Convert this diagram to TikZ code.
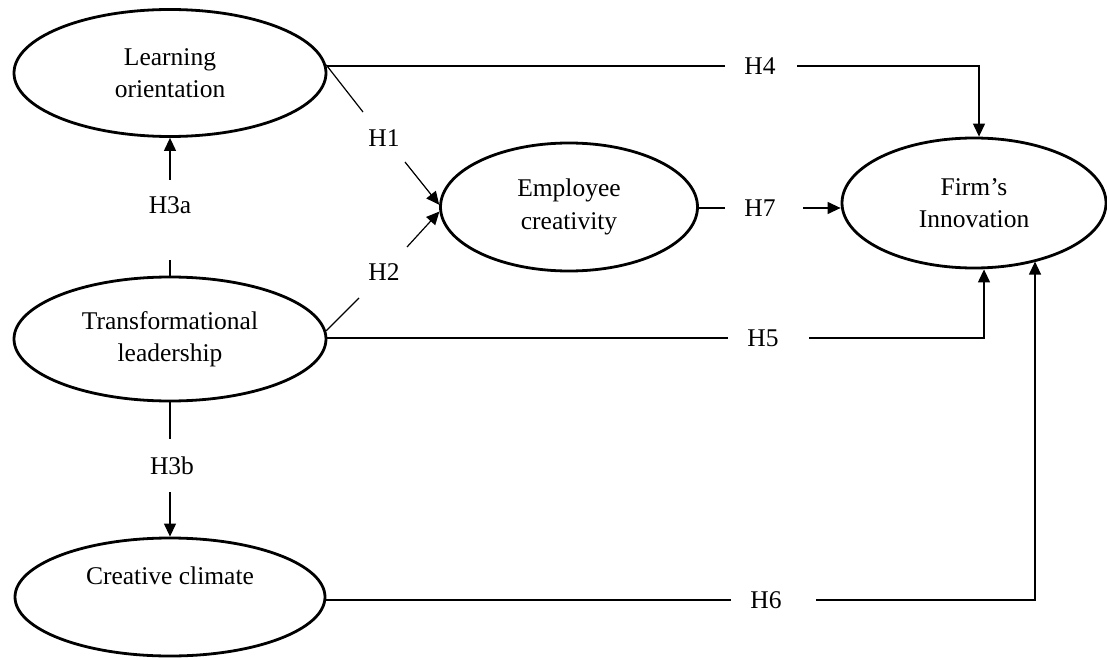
\documentclass[tikz,border=0pt]{standalone}
\usepackage{fontspec}
\setmainfont{Liberation Serif}
\usetikzlibrary{shapes.geometric,arrows.meta}
\begin{document}
\begin{tikzpicture}[x=1pt,y=-1pt,
  construct/.style={draw,ellipse,line width=2.8pt,inner sep=0pt,align=center,
    font=\fontsize{25.5}{32.5}\selectfont},
  conn/.style={line width=1.2pt},
  arr/.style={conn,-{Triangle[length=13pt,width=12pt]}},
  hyp/.style={inner sep=0pt,font=\fontsize{25.5}{30}\selectfont}]
\useasboundingbox (0,0) rectangle (1107,660);
% constructs
\node[construct,minimum width=312pt,minimum height=127pt] (LO) at (170,73) {Learning\\orientation};
\node[construct,minimum width=257pt,minimum height=128pt] (EC) at (569,207) {Employee\\creativity};
\node[construct,minimum width=264pt,minimum height=130pt] (FI) at (974,203) {Firm’s\\Innovation};
\node[construct,minimum width=312pt,minimum height=124pt] (TL) at (170,339) {Transformational\\leadership};
\node[construct,minimum width=310pt,minimum height=118pt] (CC) at (170,597) {Creative climate\\\strut};
% hypothesis labels
\node[hyp] (H1) at (384,138) {H1};
\node[hyp] (H2) at (384,272) {H2};
\node[hyp] (H3a) at (170,205) {H3a};
\node[hyp] (H3b) at (172,466) {H3b};
\node[hyp] (H4) at (760,66) {H4};
\node[hyp] (H5) at (763,338) {H5};
\node[hyp] (H6) at (766,600) {H6};
\node[hyp] (H7) at (760,208) {H7};
% gap end points
\coordinate (h1a) at (363,112); \coordinate (h1b) at (405,162);
\coordinate (h2a) at (359,298); \coordinate (h2b) at (407,247);
\coordinate (h3aa) at (170,260); \coordinate (h3ab) at (170,180);
\coordinate (h3ba) at (170,439); \coordinate (h3bb) at (170,492);
\coordinate (h4a) at (725,66); \coordinate (h4b) at (797,66); \coordinate (h4c) at (979,66);
\coordinate (h5a) at (728,338); \coordinate (h5b) at (809,338); \coordinate (h5c) at (984,338);
\coordinate (h6a) at (731,600); \coordinate (h6b) at (816,600); \coordinate (h6c) at (1035,600);
\coordinate (h7a) at (725,208); \coordinate (h7b) at (803,208);
% H1, H2
\draw[conn] (LO.3) -- (h1a);
\draw[arr] (h1b) -- (EC.179);
\draw[conn] (TL.3) -- (h2a);
\draw[arr] (h2b) -- (EC.182);
% H3a, H3b
\draw[conn] (TL.north) -- (h3aa);
\draw[arr] (h3ab) -- (LO.south);
\draw[conn] (TL.south) -- (h3ba);
\draw[arr] (h3bb) -- (CC.north);
% H4
\draw[conn] (h4a) -- (h4a -| LO.east);
\draw[arr] (h4b) -- (h4c) -- (h4c |- FI.north);
% H5
\draw[conn] (h5a) -- (h5a -| TL.east);
\draw[arr] (h5b) -- (h5c) -- (h5c |- FI.south);
% H6
\draw[conn] (h6a) -- (h6a -| CC.east);
\draw[arr] (h6b) -- (h6c) -- (h6c |- FI.-43);
% H7
\draw[conn] (h7a) -- (h7a -| EC.east);
\draw[arr] (h7b) -- (h7b -| FI.west);
\end{tikzpicture}
\end{document}
